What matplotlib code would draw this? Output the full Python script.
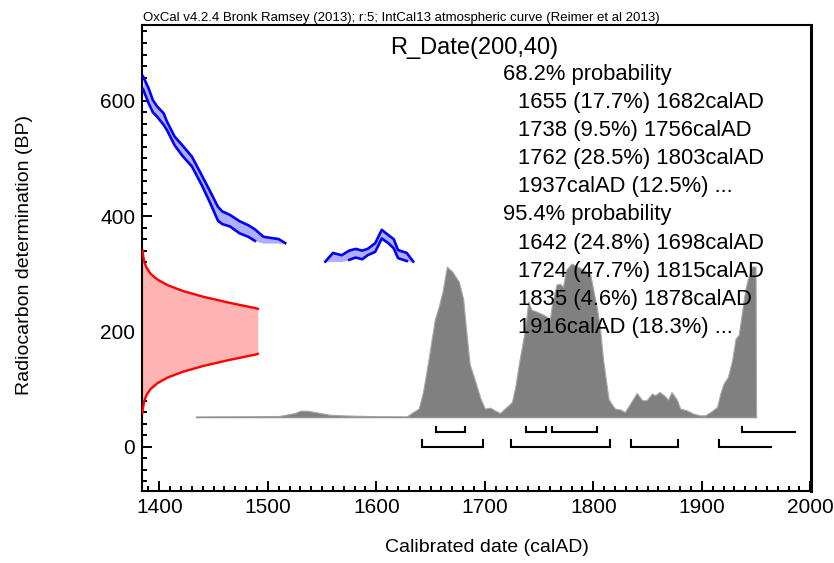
import matplotlib
matplotlib.use('Agg')
import matplotlib.pyplot as plt
import numpy as np
from matplotlib.ticker import MultipleLocator

plt.rcParams['font.family'] = ['Liberation Sans', 'DejaVu Sans']

# IntCal13 curve, only the parts that are visible (year AD, BP upper / lower)
curve1_year = [1385, 1390, 1394, 1398, 1404, 1407, 1414, 1421, 1430, 1439,
               1447, 1454, 1458, 1465, 1474, 1482, 1488, 1496, 1510, 1516]
curve1_hi = [642, 622, 601, 590, 578, 564, 538, 523, 503, 471,
             442, 416, 408, 402, 391, 384, 377, 364, 360, 353]
curve1_lo = [620, 596, 580, 572, 558, 549, 523, 505, 486, 454,
             422, 392, 386, 382, 370, 364, 357, 342, 340, 333]
curve1_clip = 353

curve2_year = [1553, 1560, 1568, 1575, 1581, 1587, 1592, 1599, 1605, 1611,
               1616, 1620, 1628, 1634]
curve2_hi = [321, 336, 332, 340, 343, 340, 343, 353, 376, 367, 360, 341, 336, 321]
curve2_lo = [305, 318, 316, 324, 328, 325, 332, 338, 361, 353, 344, 327, 322, 305]
curve2_clip = 321

# R_Date(200,40) as drawn on the y axis (BP, width in years)
date_bp = [58, 64, 70, 80, 90, 100, 110, 120, 130, 140, 150, 160, 161,
           239, 240, 250, 260, 270, 280, 290, 300, 310, 320, 330, 340]
date_width = [0.0, 0.4, 0.9, 1.9, 4.0, 7.6, 13.8, 23.4, 37.5, 56.2, 79.2, 104.9, 106.4,
              106.4, 104.9, 79.2, 56.2, 37.5, 23.4, 13.8, 7.6, 4.0, 1.9, 0.9, 0.4]

# calibrated distribution (relative probability)
dist_year = [1434, 1480, 1510, 1525, 1530, 1536, 1545, 1557, 1573, 1603,
             1628, 1634, 1639, 1643, 1648, 1654, 1657, 1661, 1665, 1670,
             1676, 1680, 1683, 1686, 1691, 1696, 1700, 1705, 1709, 1714,
             1720, 1725, 1728, 1732, 1737, 1740, 1743, 1748, 1754, 1760,
             1762, 1766, 1769, 1772, 1775, 1780, 1789, 1797, 1803, 1806,
             1809, 1814, 1818, 1820, 1825, 1829, 1834, 1840, 1845, 1849,
             1854, 1857, 1861, 1865, 1869, 1872, 1877, 1880, 1886, 1892,
             1898, 1903, 1908, 1914, 1917, 1920, 1924, 1928, 1931, 1934,
             1940, 1943, 1946, 1949.5, 1950]
dist_prob = [0.5, 0.7, 1, 4, 6.3, 6.3, 4.7, 2.3, 1.5, 0.7,
             0.6, 5, 8.4, 25, 57, 98, 108, 125, 150, 145,
             135, 118, 84, 53, 36, 18.4, 8.4, 9.4, 6.7, 4,
             10, 15, 30, 57, 87, 115, 107, 105, 102, 98,
             113, 132, 133, 130, 147, 153, 148, 143, 110, 90,
             57, 18, 11, 8.4, 7.4, 5, 13.4, 24, 16.7, 16.7,
             23.4, 21.7, 25, 21.7, 17.4, 25, 17.4, 8.4, 6.7, 3.4,
             1.7, 1.7, 5, 10, 23.4, 33.4, 40, 57, 78, 82,
             127, 140, 150, 150, 0]
dist_base = 51.5
dist_height = 266

# highest posterior density ranges
hpd68_from = [1655, 1738, 1762, 1937]
hpd68_to = [1682, 1756, 1803, 1986]
hpd68_open = [False, False, False, True]
hpd95_from = [1642, 1724, 1835, 1916]
hpd95_to = [1698, 1815, 1878, 1964]
hpd95_open = [False, False, False, True]

summary = ['68.2% probability',
           '  1655 (17.7%) 1682calAD',
           '  1738 (9.5%) 1756calAD',
           '  1762 (28.5%) 1803calAD',
           '  1937calAD (12.5%) ...',
           '95.4% probability',
           '  1642 (24.8%) 1698calAD',
           '  1724 (47.7%) 1815calAD',
           '  1835 (4.6%) 1878calAD',
           '  1916calAD (18.3%) ...']

W, H = 834, 563
fig = plt.figure(figsize=(W / 100, H / 100), dpi=100)
ax = fig.add_axes([142.3 / W, 1 - 491 / H, (811 - 142.3) / W, (491 - 25) / H])
x0, x1 = 1384.3, 2000.6
ax.set_xlim(x0, x1)
ax.set_ylim(-76.8, 731.2)

blue = '#0000ff'
for yr, hi, lo, clip in [(curve1_year, curve1_hi, curve1_lo, curve1_clip),
                         (curve2_year, curve2_hi, curve2_lo, curve2_clip)]:
  yr = np.array(yr, float)
  hi = np.array(hi, float)
  lo = np.array(lo, float)
  ax.fill_between(yr, np.maximum(lo, clip), hi, color='#b0b0fa', lw=0, zorder=2)
  ax.plot(yr, hi, color=blue, lw=1.9, zorder=3)
  ax.plot(yr, np.where(lo >= clip, lo, np.nan), color=blue, lw=1.9, zorder=3)

# date on the y axis
bp = np.array(date_bp, float)
wd = np.array(date_width, float)
ax.fill_betweenx(bp, x0, x0 + wd, color='#ffb4b4', lw=0, zorder=2)
lower = bp < 200
ax.plot(x0 + wd[lower], bp[lower], color='#ff0000', lw=1.7, zorder=3)
ax.plot(x0 + wd[~lower], bp[~lower], color='#ff0000', lw=1.7, zorder=3)

# calibrated distribution
dy = np.array(dist_year, float)
dp = np.array(dist_prob, float)
top = dist_base + dp / dp.max() * dist_height
ax.fill_between(dy, dist_base, top, color='#808080', lw=0.8,
                edgecolor='#a8a8a8', zorder=4)
ax.plot([dy[0], dy[-1]], [dist_base, dist_base], color='#909090', lw=1.0, zorder=4)

# ranges
for frm, to, opn, yline, ytick in [(hpd68_from, hpd68_to, hpd68_open, 25, 35),
                                   (hpd95_from, hpd95_to, hpd95_open, 0, 11.5)]:
  for a, b, o in zip(frm, to, opn):
    if o:
      ax.plot([a, a, b], [ytick, yline, yline], color='black', lw=1.5,
              solid_joinstyle='miter', zorder=5)
    else:
      ax.plot([a, a, b, b], [ytick, yline, yline, ytick], color='black', lw=1.5,
              solid_joinstyle='miter', zorder=5)

# axes styling
ax.xaxis.set_major_locator(MultipleLocator(100))
ax.xaxis.set_minor_locator(MultipleLocator(10))
ax.yaxis.set_major_locator(MultipleLocator(200))
ax.yaxis.set_minor_locator(MultipleLocator(20))
ax.tick_params(which='both', direction='in', top=False, right=False,
               width=1.4, color='black', labelsize=15, pad=5)
ax.tick_params(which='major', length=7.5)
ax.tick_params(which='minor', length=3.8)
for s in ['left', 'bottom', 'top']:
  ax.spines[s].set_linewidth(1.5)
ax.spines['right'].set_linewidth(2.2)

fig.text(487 / W, 1 - 548 / H, 'Calibrated date (calAD)', fontsize=14,
         ha='center', va='center')
fig.text(25 / W, 1 - 255 / H, 'Radiocarbon determination (BP)', fontsize=14,
         ha='center', va='center', rotation=90)
fig.text(143 / W, 1 - 20.5 / H,
         'OxCal v4.2.4 Bronk Ramsey (2013); r:5; IntCal13 atmospheric curve (Reimer et al 2013)',
         fontsize=9.5, ha='left', va='baseline')
fig.text(474 / W, 1 - 54 / H, 'R_Date(200,40)', fontsize=17, ha='center', va='baseline')

for i, line in enumerate(summary):
  xt = 503 if not line.startswith('  ') else 518
  fig.text(xt / W, 1 - (80 + 28.1 * i) / H, line.strip(), fontsize=15.8,
           ha='left', va='baseline', zorder=10)

fig.savefig('out.png', dpi=100)
